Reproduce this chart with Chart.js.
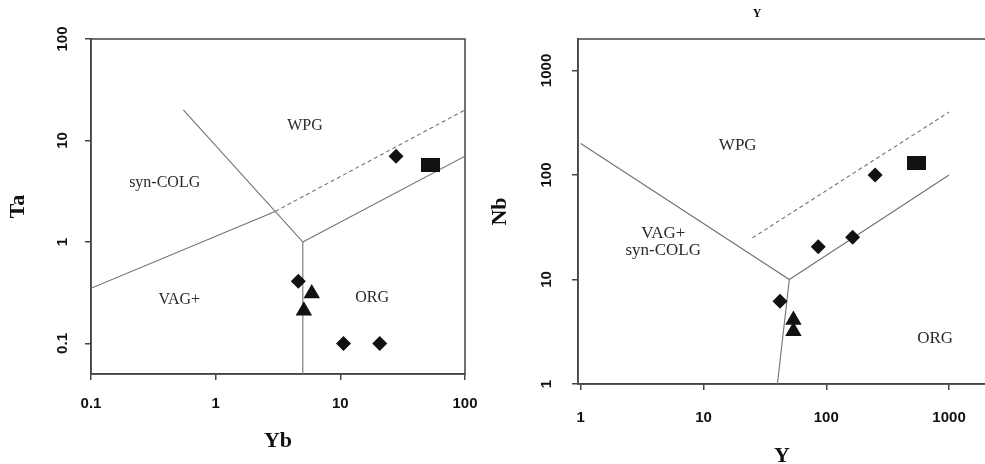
<!DOCTYPE html>
<html>
<head>
<meta charset="utf-8">
<script src="https://cdn.jsdelivr.net/npm/chart.js@4.4.1/dist/chart.umd.min.js"></script>
<style>
  html, body { margin: 0; padding: 0; background: #fff; }
  #wrap { position: relative; width: 985px; height: 464px; overflow: hidden; background: #fff; }
  .panel { position: absolute; top: 0; }
  #left-panel { left: 0; }
  #right-panel { left: 480px; }
  #nby-caption { position: absolute; top: 6px; left: 737px; width: 40px; text-align: center;
    font: bold 12px "Liberation Serif", serif; color: #111; }
</style>
</head>
<body>
<div id="wrap">
  <div class="panel" id="left-panel"><canvas id="tayb" width="480" height="480"></canvas></div>
  <div class="panel" id="right-panel"><canvas id="nby" width="520" height="480"></canvas></div>
  <div id="nby-caption">Y</div>
</div>
<script>
// Granite discrimination diagrams: Ta vs Yb (left), Nb vs Y (right)

// Ta-Yb samples
const YB_DIAMOND = [28, 4.6, 10.6, 20.7];
const TA_DIAMOND = [7.0, 0.41, 0.10, 0.10];
const YB_TRIANGLE = [5.9, 5.1];
const TA_TRIANGLE = [0.31, 0.21];
const YB_SQUARE = [53];
const TA_SQUARE = [5.7];

// Nb-Y samples
const Y_DIAMOND = [250, 86, 164, 42];
const NB_DIAMOND = [100, 20.6, 25.4, 6.2];
const Y_TRIANGLE = [54, 54];
const NB_TRIANGLE = [4.1, 3.2];
const Y_SQUARE = [540];
const NB_SQUARE = [130];

// field boundaries as [x, y] vertices
const TAYB_SOLID = [
  [[0.1, 0.35], [3, 2]],
  [[0.55, 20], [5, 1], [5, 0.05]],
  [[5, 1], [100, 7]]
];
const TAYB_DASHED = [[3, 2], [100, 20]];
const NBY_SOLID = [
  [[1, 200], [50, 10], [1000, 100]],
  [[50, 10], [40, 1]]
];
const NBY_DASHED = [[25, 25], [1000, 400]];

// field names and where they sit (data units)
const TAYB_FIELDS = ['WPG', 'syn-COLG', 'VAG+', 'ORG'];
const TAYB_FIELD_AT = [[5.2, 14], [0.39, 3.8], [0.51, 0.27], [18, 0.28]];
const NBY_FIELDS = ['WPG', 'VAG+', 'syn-COLG', 'ORG'];
const NBY_FIELD_AT = [[19, 190], [4.7, 27.5], [4.7, 18.9], [770, 2.7]];

// axis ticks
const TAYB_X_TICKS = [0.1, 1, 10, 100];
const TAYB_Y_TICKS = [0.1, 1, 10, 100];
const NBY_X_TICKS = [1, 10, 100, 1000];
const NBY_Y_TICKS = [1, 10, 100, 1000];

const LINE_COLOR = '#727272';
const INK = '#111';

const pts = (xs, ys) => xs.map((x, i) => ({ x, y: ys[i] }));
const verts = seg => seg.map(([x, y]) => ({ x, y }));

function blockMarker() {
  const c = document.createElement('canvas');
  c.width = 19; c.height = 14;
  const g = c.getContext('2d');
  g.fillStyle = INK;
  g.fillRect(0, 0, 19, 14);
  return c;
}

function buildDatasets(solid, dashed, xd, yd, xt, yt, xs, ys) {
  const marks = [
    { data: pts(xd, yd), pointStyle: 'rectRot', pointRadius: 7.5, backgroundColor: INK, borderWidth: 0, order: 1 },
    { data: pts(xt, yt), pointStyle: 'triangle', pointRadius: 9.5, backgroundColor: INK, borderWidth: 0, order: 1 },
    { data: pts(xs, ys), pointStyle: blockMarker(), order: 1 }
  ];
  const lines = solid.map(seg => ({
    data: verts(seg), showLine: true, borderColor: LINE_COLOR, borderWidth: 1.1, pointRadius: 0, order: 2
  }));
  lines.push({
    data: verts(dashed), showLine: true, borderColor: LINE_COLOR, borderWidth: 1.1,
    borderDash: [4, 3], pointRadius: 0, order: 2
  });
  return marks.concat(lines);
}

function logAxis({ min, max, ticks, vertical, size, title, titlePad, tickPad }) {
  return {
    type: 'logarithmic',
    min, max,
    bounds: 'data',
    afterBuildTicks: s => { s.ticks = ticks.map(v => ({ value: v })); },
    afterFit: s => {
      if (vertical) s.width = size; else s.height = size;
      s.paddingLeft = s.paddingRight = s.paddingTop = s.paddingBottom = 0;
    },
    grid: { drawOnChartArea: false, drawTicks: true, tickLength: 6, color: '#444', lineWidth: 1.5 },
    border: { display: true, color: '#444', width: 1.5 },
    ticks: Object.assign({
      font: { family: 'Liberation Sans', size: 15, weight: 'bold' },
      color: INK,
      padding: tickPad,
      autoSkip: false,
      callback: v => String(v)
    }, vertical ? { minRotation: 90, maxRotation: 90, crossAlign: 'center' } : { minRotation: 0, maxRotation: 0 }),
    title: {
      display: true, text: title, color: INK,
      font: { family: 'Liberation Serif', size: 22, weight: 'bold' },
      padding: vertical ? { top: titlePad, bottom: 0 } : { top: 0, bottom: titlePad }
    }
  };
}

const framePlugin = {
  id: 'frame',
  beforeDatasetsDraw(chart) {
    const { ctx, chartArea: a } = chart;
    ctx.save();
    ctx.strokeStyle = '#444';
    ctx.lineWidth = 1.5;
    ctx.strokeRect(a.left, a.top, a.right - a.left, a.bottom - a.top);
    ctx.restore();
  }
};

const fieldsPlugin = {
  id: 'fields',
  afterDatasetsDraw(chart, args, opts) {
    const { ctx, scales: { x, y } } = chart;
    ctx.save();
    ctx.fillStyle = '#2a2a2a';
    ctx.font = `${opts.size}px "Liberation Serif"`;
    ctx.textAlign = 'center';
    ctx.textBaseline = 'middle';
    opts.names.forEach((name, i) => {
      const [vx, vy] = opts.at[i];
      ctx.fillText(name, x.getPixelForValue(vx), y.getPixelForValue(vy));
    });
    ctx.restore();
  }
};

function makeChart(id, cfg) {
  return new Chart(document.getElementById(id), {
    type: 'scatter',
    data: { datasets: cfg.datasets },
    options: {
      responsive: false,
      animation: false,
      events: [],
      layout: { padding: cfg.padding },
      scales: { x: cfg.x, y: cfg.y },
      plugins: {
        legend: { display: false },
        tooltip: { enabled: false },
        fields: cfg.fields
      }
    },
    plugins: [framePlugin, fieldsPlugin]
  });
}

makeChart('tayb', {
  datasets: buildDatasets(TAYB_SOLID, TAYB_DASHED, YB_DIAMOND, TA_DIAMOND, YB_TRIANGLE, TA_TRIANGLE, YB_SQUARE, TA_SQUARE),
  padding: { left: 0, top: 39, right: 15, bottom: 0 },
  x: logAxis({ min: 0.1, max: 100, ticks: TAYB_X_TICKS, vertical: false, size: 106, title: 'Yb', titlePad: 25, tickPad: 15 }),
  y: logAxis({ min: 0.05, max: 100, ticks: TAYB_Y_TICKS, vertical: true, size: 91, title: 'Ta', titlePad: 5, tickPad: 9.5 }),
  fields: { names: TAYB_FIELDS, at: TAYB_FIELD_AT, size: 16 }
});

makeChart('nby', {
  datasets: buildDatasets(NBY_SOLID, NBY_DASHED, Y_DIAMOND, NB_DIAMOND, Y_TRIANGLE, NB_TRIANGLE, Y_SQUARE, NB_SQUARE),
  padding: { left: 0, top: 39, right: 14, bottom: 0 },
  x: logAxis({ min: 0.95, max: 2000, ticks: NBY_X_TICKS, vertical: false, size: 96, title: 'Y', titlePad: 10, tickPad: 18.5 }),
  y: logAxis({ min: 1, max: 2000, ticks: NBY_Y_TICKS, vertical: true, size: 98, title: 'Nb', titlePad: 7, tickPad: 8 }),
  fields: { names: NBY_FIELDS, at: NBY_FIELD_AT, size: 17 }
});
</script>
</body>
</html>
